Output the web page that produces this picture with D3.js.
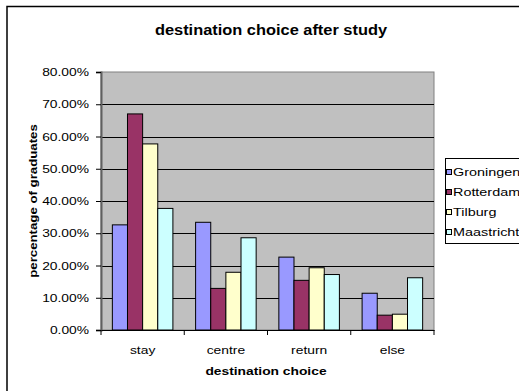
<!DOCTYPE html>
<html>
<head>
<meta charset="utf-8">
<script src="https://cdn.jsdelivr.net/npm/d3@7"></script>
<style>
  html, body { margin: 0; padding: 0; background: #fff; }
  svg { display: block; font-family: "Liberation Sans", Arial, sans-serif; }
</style>
</head>
<body>
<svg id="chart" width="519" height="391"></svg>
<script>
// Destinations and share of graduates per university town
const categories = ["stay", "centre", "return", "else"];
const seriesNames = ["Groningen", "Rotterdam", "Tilburg", "Maastricht"];
const groningen  = [0.326, 0.334, 0.226, 0.114];
const rotterdam  = [0.670, 0.129, 0.154, 0.046];
const tilburg    = [0.577, 0.179, 0.193, 0.049];
const maastricht = [0.377, 0.286, 0.172, 0.162];
const yTicks = [0, 0.1, 0.2, 0.3, 0.4, 0.5, 0.6, 0.7, 0.8];
const colors = ["#9999FF", "#993366", "#FFFFCC", "#CCFFFF"];

const seriesValues = [groningen, rotterdam, tilburg, maastricht];

// Text in this chart is set slightly wide; widen glyphs horizontally
function widen(sel, k) {
  sel.each(function () {
    const w = this.getComputedTextLength();
    d3.select(this).attr("textLength", w * k).attr("lengthAdjust", "spacingAndGlyphs");
  });
}

const svg = d3.select("#chart");
const plot = { left: 101, right: 434, top: 72, bottom: 330 };

// Outer chart frame (only top and left edges fall inside the view)
svg.append("rect")
  .attr("x", 7).attr("y", 6.5)
  .attr("width", 600).attr("height", 500)
  .attr("fill", "#fff").attr("stroke", "#000").attr("stroke-width", 1.5);

const x0 = d3.scaleBand().domain(categories)
  .range([plot.left, plot.right]).paddingInner(0).paddingOuter(0);
// Excel style gap width: 150% of one bar, split across both sides
const nBars = seriesNames.length;
const barW = x0.bandwidth() / (nBars + 1.5);
const x1 = d3.scaleBand().domain(seriesNames)
  .range([barW * 0.75, barW * 0.75 + barW * nBars]).padding(0);

const y = d3.scaleLinear().domain([0, 0.8]).range([plot.bottom, plot.top]);

// Plot background
svg.append("rect")
  .attr("x", plot.left).attr("y", plot.top)
  .attr("width", plot.right - plot.left).attr("height", plot.bottom - plot.top)
  .attr("fill", "#C0C0C0").attr("stroke", "#808080").attr("stroke-width", 1);

// Gridlines
svg.append("g").selectAll("line")
  .data(yTicks.filter(d => d > 0 && d < 0.8))
  .join("line")
  .attr("x1", plot.left).attr("x2", plot.right)
  .attr("y1", d => Math.round(y(d)) + 0.5).attr("y2", d => Math.round(y(d)) + 0.5)
  .attr("stroke", "#000").attr("stroke-width", 1);

// Bars
const groups = svg.append("g").selectAll("g")
  .data(categories)
  .join("g")
  .attr("transform", d => `translate(${x0(d)},0)`);

groups.selectAll("rect")
  .data((d, i) => seriesNames.map((s, j) => ({ s, j, v: seriesValues[j][i] })))
  .join("rect")
  .attr("x", d => x1(d.s))
  .attr("y", d => y(d.v))
  .attr("width", x1.bandwidth())
  .attr("height", d => y(0) - y(d.v))
  .attr("fill", d => colors[d.j])
  .attr("stroke", "#000").attr("stroke-width", 1);

// Y axis
const yAxis = d3.axisLeft(y).tickValues(yTicks)
  .tickFormat(d3.format(".2%")).tickSize(5).tickPadding(7);
const gy = svg.append("g")
  .attr("transform", `translate(${plot.left},0)`)
  .call(yAxis);
gy.select(".domain").attr("stroke", "#606060").attr("stroke-width", 2);
gy.selectAll(".tick line").attr("stroke", "#000");
gy.selectAll(".tick text")
  .attr("font-size", 11.5).attr("fill", "#000")
  .attr("font-family", "Liberation Sans, Arial, sans-serif")
  .call(widen, 1.2);

// X axis
const xAxis = d3.axisBottom(x0).tickSize(0).tickPadding(16);
const gx = svg.append("g")
  .attr("transform", `translate(0,${plot.bottom})`)
  .call(xAxis);
gx.select(".domain").attr("stroke", "#000");
gx.selectAll(".tick text")
  .attr("font-size", 11.5).attr("fill", "#000")
  .attr("font-family", "Liberation Sans, Arial, sans-serif")
  .call(widen, 1.2);
// Category separators
gx.append("g").selectAll("line")
  .data(d3.range(categories.length + 1))
  .join("line")
  .attr("x1", i => plot.left + i * x0.bandwidth())
  .attr("x2", i => plot.left + i * x0.bandwidth())
  .attr("y1", 0).attr("y2", 5)
  .attr("stroke", "#000");

// Titles
svg.append("text")
  .attr("x", 271).attr("y", 35)
  .attr("text-anchor", "middle")
  .attr("font-size", 14).attr("font-weight", "bold")
  .text("destination choice after study")
  .call(widen, 1.17);

svg.append("text")
  .attr("x", 266).attr("y", 375)
  .attr("text-anchor", "middle")
  .attr("font-size", 11.5).attr("font-weight", "bold")
  .text("destination choice")
  .call(widen, 1.2);

svg.append("text")
  .attr("transform", `translate(37,${(plot.top + plot.bottom) / 2}) rotate(-90)`)
  .attr("text-anchor", "middle")
  .attr("font-size", 11.5).attr("font-weight", "bold")
  .text("percentage of graduates")
  .call(widen, 1.15);

// Legend
const legend = svg.append("g");
legend.append("rect")
  .attr("x", 445.5).attr("y", 158.5)
  .attr("width", 100).attr("height", 85)
  .attr("fill", "#fff").attr("stroke", "#000").attr("stroke-width", 1);

const items = legend.selectAll("g.item")
  .data(seriesNames)
  .join("g")
  .attr("class", "item")
  .attr("transform", (d, i) => `translate(0,${172 + i * 20})`);
items.append("rect")
  .attr("x", 446.5).attr("y", -2.5)
  .attr("width", 5).attr("height", 5)
  .attr("fill", (d, i) => colors[i])
  .attr("stroke", "#000").attr("stroke-width", 1);
items.append("text")
  .attr("x", 453).attr("y", 4.2)
  .attr("font-size", 11.5)
  .text(d => d)
  .call(widen, 1.25);
</script>
</body>
</html>
